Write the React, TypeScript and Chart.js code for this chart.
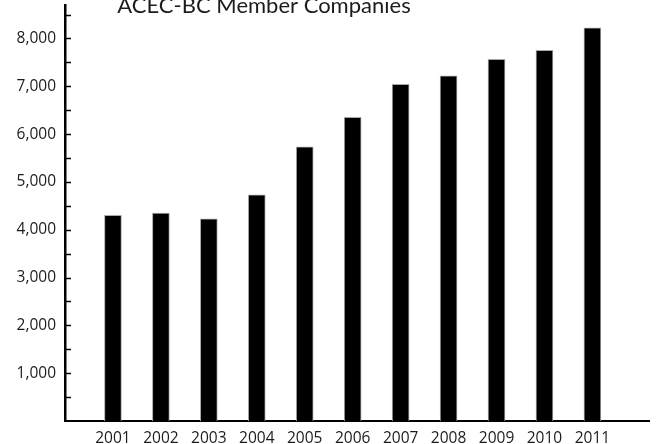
import React, { useEffect, useRef } from "react";
import { Chart, registerables } from "chart.js";

Chart.register(...registerables);

const TITLE = "ACEC-BC Member Companies";
const years = [2001, 2002, 2003, 2004, 2005, 2006, 2007, 2008, 2009, 2010, 2011];
const members = [4300, 4350, 4230, 4730, 5735, 6350, 7040, 7220, 7565, 7750, 8220];
const yLabelValues = [1000, 2000, 3000, 4000, 5000, 6000, 7000, 8000];

const TITLE_FONT = "Lato";
const TICK_FONT = "'Open Sans'";
const TEXT = "#1c1c1c";

export default function App() {
  const ref = useRef<HTMLCanvasElement | null>(null);

  useEffect(() => {
    document.body.style.margin = "0";
    const canvas = ref.current;
    if (!canvas) return;

    const insideTicks = {
      id: "insideTicks",
      afterDraw(chart: any) {
        const { ctx, chartArea, scales } = chart;
        const y = scales.y;
        ctx.save();
        ctx.strokeStyle = "#000";
        ctx.lineWidth = 1.5;
        for (let v = 500; v <= 8500; v += 500) {
          const py = Math.round(y.getPixelForValue(v)) + 0.5;
          ctx.beginPath();
          ctx.moveTo(chartArea.left, py);
          ctx.lineTo(chartArea.left + 6, py);
          ctx.stroke();
        }
        ctx.fillStyle = TEXT;
        ctx.font = `15.5px ${TICK_FONT}`;
        ctx.textAlign = "right";
        ctx.textBaseline = "middle";
        for (const v of yLabelValues) {
          ctx.fillText(v.toLocaleString("en-US"), chartArea.left - 9, y.getPixelForValue(v));
        }
        ctx.restore();
      },
    };

    const titlePlugin = {
      id: "topTitle",
      afterDraw(chart: any) {
        const { ctx } = chart;
        ctx.save();
        ctx.fillStyle = TEXT;
        ctx.font = `22px ${TITLE_FONT}`;
        ctx.textAlign = "center";
        ctx.textBaseline = "alphabetic";
        ctx.fillText(TITLE, 264, 12.5);
        ctx.restore();
      },
    };

    const chart = new Chart(canvas, {
      type: "bar",
      data: {
        datasets: [
          {
            label: TITLE,
            data: years.map((yr, i) => ({ x: yr, y: members[i] })),
            backgroundColor: "#000",
            borderColor: "#a8a8a8",
            borderWidth: 1,
            barThickness: 17,
          },
        ],
      },
      options: {
        animation: false,
        responsive: false,
        devicePixelRatio: 1,
        layout: { padding: { top: 5, right: 8, left: 65, bottom: 0 } },
        plugins: {
          legend: { display: false },
          tooltip: { enabled: false },
          title: { display: false },
        },
        scales: {
          x: {
            type: "linear",
            offset: false,
            min: 2000,
            max: 2012.18,
            grid: { display: false, drawTicks: false },
            border: { display: true, color: "#000", width: 2 },
            ticks: {
              stepSize: 1,
              autoSkip: false,
              maxRotation: 0,
              padding: 8,
              color: TEXT,
              font: { family: TICK_FONT, size: 15.5 },
              callback: (v: any) => (years.includes(Number(v)) ? String(v) : ""),
            },
            afterFit: (s: any) => {
              s.height = 23;
            },
          },
          y: {
            min: 0,
            max: 8700,
            grid: { display: false, drawTicks: false },
            border: { display: true, color: "#000", width: 2.5 },
            ticks: { display: false, stepSize: 500 },
          },
        },
      },
      plugins: [insideTicks, titlePlugin],
    });

    return () => chart.destroy();
  }, []);

  return <canvas ref={ref} width={657} height={444} style={{ display: "block" }} />;
}
